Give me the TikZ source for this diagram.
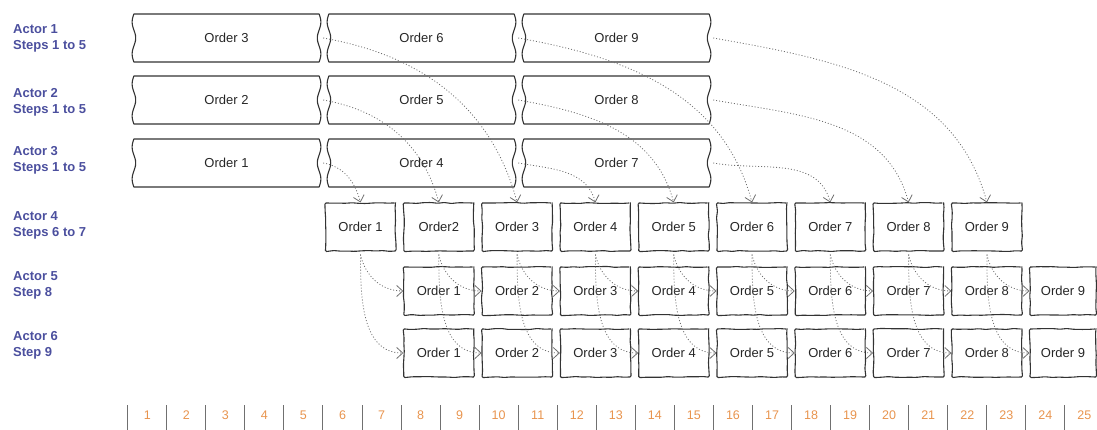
\documentclass[tikz,border=0pt]{standalone}
\usepackage{fontspec}
\setmainfont{Liberation Sans}
\usetikzlibrary{arrows.meta,decorations.pathmorphing,calc}
\definecolor{actorblue}{HTML}{4B4F9E}
\definecolor{tickorange}{HTML}{E8944E}
\definecolor{linegray}{HTML}{333333}
\definecolor{flowgray}{HTML}{6E6E6E}
\definecolor{tickgray}{HTML}{707070}

% torn-edged box: name, centre x, centre y, label
\newcommand\tornbox[4]{%
  \node[bigtext] (#1) at (#2,#3) {#4};
  \draw[boxline]
    plot[smooth, domain=0:1, samples=19, variable=\t]
      ({#2+92.6+1.8*sin(540*\t)}, {#3-24+48*\t})
    -- plot[smooth, domain=0:1, samples=19, variable=\t]
      ({#2-92.6-1.8*sin(540*\t)}, {#3+24-48*\t})
    -- cycle;
}

\begin{document}
\begin{tikzpicture}[x=1pt,y=-1pt,
  every node/.style={font=\fontsize{13}{15}\selectfont, text=black!85},
  actor/.style={anchor=west, align=left, text=actorblue, inner sep=0pt,
    font=\fontsize{13}{16}\selectfont\bfseries},
  bigtext/.style={minimum width=185pt, minimum height=48pt, inner sep=0pt},
  boxline/.style={draw=linegray, line width=1.1pt, line join=round},
  smallbox/.style={draw=linegray, line width=1.1pt, minimum width=70pt,
    minimum height=48pt, inner sep=0pt, decorate,
    decoration={random steps, segment length=7pt, amplitude=0.5pt},
    rounded corners=1.2pt},
  flow/.style={draw=flowgray, line width=0.8pt, dash pattern=on 1pt off 2pt,
    -{Straight Barb[length=6pt,width=11pt]}},
  tickline/.style={draw=tickgray, line width=1pt},
  num/.style={text=tickorange, font=\fontsize{12.5}{14}\selectfont}
]
\pgfmathsetseed{7}
\useasboundingbox (0,0) rectangle (1097,430);

% actor labels
\node[actor] (l1) at (13,38)  {Actor 1\\Steps 1 to 5};
\node[actor] (l2) at (13,102) {Actor 2\\Steps 1 to 5};
\node[actor] (l3) at (13,160) {Actor 3\\Steps 1 to 5};
\node[actor] (l4) at (13,225) {Actor 4\\Steps 6 to 7};
\node[actor] (l5) at (13,285) {Actor 5\\Step 8};
\node[actor] (l6) at (13,345) {Actor 6\\Step 9};

% actors 1-3: batches of orders
\tornbox{a1}{226.5}{38}{Order 3}
\tornbox{a2}{421.5}{38}{Order 6}
\tornbox{a3}{616.5}{38}{Order 9}
\tornbox{b1}{226.5}{100}{Order 2}
\tornbox{b2}{421.5}{100}{Order 5}
\tornbox{b3}{616.5}{100}{Order 8}
\tornbox{c1}{226.5}{163}{Order 1}
\tornbox{c2}{421.5}{163}{Order 4}
\tornbox{c3}{616.5}{163}{Order 7}

% actor 4
\foreach \i/\txt in {1/Order 1,2/Order2,3/Order 3,4/Order 4,5/Order 5,
                     6/Order 6,7/Order 7,8/Order 8,9/Order 9}
  \node[smallbox] (d\i) at ({360.5+78.3*(\i-1)},227) {\txt};

% actors 5 and 6
\foreach \i in {1,...,8}{
  \node[smallbox] (e\i) at ({438.8+78.3*(\i-1)},291) {Order \i};
  \node[smallbox] (f\i) at ({438.8+78.3*(\i-1)},353) {Order \i};
}
\node[smallbox, minimum width=66pt] (e9) at (1063,291) {Order 9};
\node[smallbox, minimum width=66pt] (f9) at (1063,353) {Order 9};

% hand-over from actors 1-3 to actor 4
\foreach \s/\t in {c1/d1,b1/d2,a1/d3,c2/d4,b2/d5,a2/d6,c3/d7,b3/d8,a3/d9}
  \draw[flow] ([xshift=4pt]\s.east) to[out=-10,in=105] (\t.north);

% hand-over from actor 4 to actors 5 and 6
\foreach \i in {1,...,9}{
  \draw[flow] ([yshift=-3pt]d\i.south) to[out=-78,in=180] (e\i.west);
  \draw[flow] ([yshift=-3pt]d\i.south) to[out=-90,in=180] (f\i.west);
}

% time scale
\foreach \k in {0,...,24}
  \draw[tickline] ({127.7+39.05*\k},405) -- ({127.7+39.05*\k},430);
\foreach \k in {1,...,25}
  \node[num] (n\k) at ({127.7+39.05*(\k-0.5)},415) {\k};
\end{tikzpicture}
\end{document}
